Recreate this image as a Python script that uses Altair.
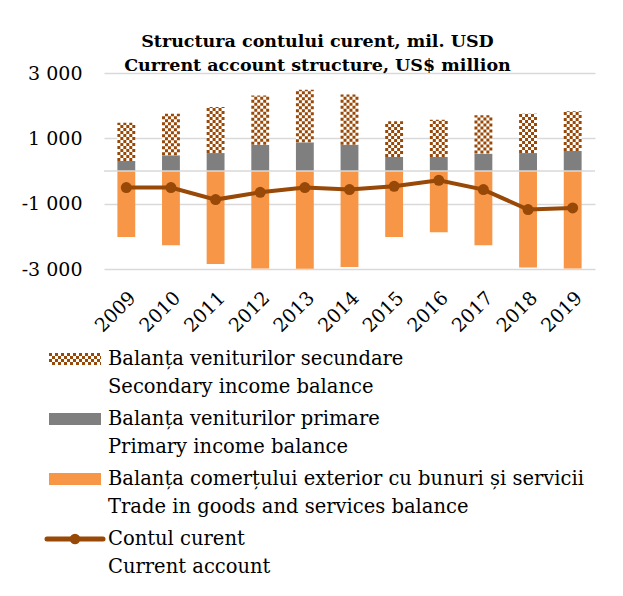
import altair as alt
import pandas as pd

# ---------------- data ----------------
years = ["2009", "2010", "2011", "2012", "2013", "2014", "2015", "2016", "2017", "2018", "2019"]
secondary = [1174, 1275, 1407, 1508, 1611, 1532, 1092, 1144, 1171, 1205, 1214]
primary = [306, 480, 550, 807, 878, 807, 428, 428, 532, 550, 612]
trade = [-2018, -2272, -2844, -2985, -2995, -2936, -2018, -1875, -2272, -2954, -2985]
current = [-508, -508, -875, -651, -508, -569, -468, -284, -569, -1180, -1131]

series_keys = ["sec", "prim", "trade", "ca"]
labels_ro = ["Balanța veniturilor secundare", "Balanța veniturilor primare",
             "Balanța comerțului exterior cu bunuri și servicii", "Contul curent"]
labels_en = ["Secondary income balance", "Primary income balance",
             "Trade in goods and services balance", "Current account"]
title_lines = ["Structura contului curent, mil. USD", "Current account structure, US$ million"]
y_ticks = [-3000, -1000, 1000, 3000]

# ---------------- style ----------------
BROWN = "#984807"
GRAY = "#7F7F7F"
ORANGE = "#F79646"
GRID = "#D9D9D9"
FONT = "DejaVu Serif"
W, H = 491, 196
PAD_IN = 0.6
NCOL = 6
colw = (1 - PAD_IN) / NCOL
cell_px = colw * W / len(years)

# ---------------- tables built from the arrays ----------------
rows = []
for i, yr in enumerate(years):
    rows.append(dict(year=yr, key="prim", y0=0, y1=primary[i]))
    rows.append(dict(year=yr, key="sec", y0=primary[i], y1=primary[i] + secondary[i]))
    rows.append(dict(year=yr, key="trade", y0=0, y1=trade[i]))
bars_df = pd.DataFrame(rows)
ca_df = pd.DataFrame({"year": years, "value": current})

chk = []
for i, yr in enumerate(years):
    for c in range(NCOL):
        chk.append(dict(pos=i + (c - (NCOL - 1) / 2) * colw, parity=c % 2,
                        y0=primary[i], y1=primary[i] + secondary[i]))
chk_df = pd.DataFrame(chk)
zero_df = pd.DataFrame({"z": [0]})
leg_df = pd.DataFrame({"key": series_keys, "l1": labels_ro, "l2": labels_en})

# ---------------- main chart ----------------
yscale = alt.Scale(domain=[-3000, 3000], nice=False, zero=False)
xband = alt.Scale(type="band", paddingInner=PAD_IN, paddingOuter=PAD_IN / 2)

y_axis = alt.Axis(values=y_ticks, grid=True, gridColor=GRID, gridWidth=1.5, ticks=False,
                  domain=False, labelPadding=22, labelFont=FONT, labelFontSize=19,
                  labelColor="#000000",
                  labelExpr="(datum.value < 0 ? '-' : '') + replace(format(abs(datum.value), ','), ',', ' ')")
x_axis = alt.Axis(labelAngle=-45, labelFont=FONT, labelFontSize=19, labelColor="#000000",
                  labelPadding=19, ticks=False, domain=False, grid=False)

bars = alt.Chart(bars_df).mark_bar().encode(
    x=alt.X("year:O", scale=xband, axis=x_axis, title=None),
    y=alt.Y("y0:Q", scale=yscale, axis=y_axis, title=None),
    y2="y1:Q",
    color=alt.Color("key:N", scale=alt.Scale(domain=["sec", "prim", "trade"],
                                             range=["#FFFFFF", GRAY, ORANGE]), legend=None),
)

def checker(par, off):
    return alt.Chart(chk_df).transform_filter(f"datum.parity == {par}").mark_rule(
        color=BROWN, strokeWidth=cell_px, strokeDash=[3, 3], strokeDashOffset=off
    ).encode(
        x=alt.X("pos:Q", scale=alt.Scale(domain=[-0.5, len(years) - 0.5], nice=False, zero=False),
                axis=None, title=None),
        y=alt.Y("y0:Q", scale=yscale, title=None),
        y2="y1:Q",
    )

zero = alt.Chart(zero_df).mark_rule(color=GRID, strokeWidth=1.5).encode(
    y=alt.Y("z:Q", scale=yscale, title=None))
xl = alt.X("year:O", scale=xband, axis=None, title=None)
line = alt.Chart(ca_df).mark_line(color=BROWN, strokeWidth=4).encode(
    x=xl, y=alt.Y("value:Q", scale=yscale, title=None))
pts = alt.Chart(ca_df).mark_circle(color=BROWN, size=120, opacity=1).encode(
    x=xl, y=alt.Y("value:Q", scale=yscale, title=None))

main = alt.layer(
    alt.layer(bars),
    alt.layer(checker(0, 0), checker(1, 3)),
    alt.layer(zero, line, pts),
).resolve_scale(x="independent").properties(width=W, height=H)

# ---------------- legend ----------------
SX = -55
TX = 4
LY = alt.Y("key:N", scale=alt.Scale(type="point", domain=series_keys, range=[23, 203], padding=0),
           axis=None, title=None)
lbase = alt.Chart(leg_df)
t1 = lbase.mark_text(align="left", baseline="middle", font=FONT, fontSize=19.5, color="#000000").encode(
    x=alt.value(TX), y=LY, text="l1:N")
t2 = lbase.mark_text(align="left", baseline="middle", font=FONT, fontSize=19.5, color="#000000", dy=28).encode(
    x=alt.value(TX), y=LY, text="l2:N")
sw = lbase.transform_filter("datum.key == 'prim' || datum.key == 'trade'").mark_rule(strokeWidth=12).encode(
    x=alt.value(SX), x2=alt.value(SX + 52), y=LY,
    color=alt.Color("key:N", scale=alt.Scale(domain=["prim", "trade"], range=[GRAY, ORANGE]), legend=None))
chk_sw = [
    lbase.transform_filter("datum.key == 'sec'").mark_rule(
        strokeWidth=3, color=BROWN, strokeDash=[3, 3], strokeDashOffset=3 * (k % 2), yOffset=off
    ).encode(x=alt.value(SX), x2=alt.value(SX + 52), y=LY)
    for k, off in enumerate([-4.5, -1.5, 1.5, 4.5])
]
ln_sw = lbase.transform_filter("datum.key == 'ca'").mark_rule(
    strokeWidth=5, strokeCap="round", color=BROWN).encode(
    x=alt.value(SX - 2), x2=alt.value(SX + 54), y=LY)
pt_sw = lbase.transform_filter("datum.key == 'ca'").mark_circle(
    size=110, color=BROWN, opacity=1).encode(x=alt.value(SX + 26), y=LY)

legend = alt.layer(t1, t2, sw, *chk_sw, ln_sw, pt_sw).properties(width=W, height=230)

chart = alt.vconcat(main, legend, spacing=0).properties(
    title=alt.TitleParams(text=title_lines, font=FONT, fontSize=17.5, fontWeight="bold",
                          lineHeight=24, anchor="middle", offset=-10, dx=9, color="#000000"),
    padding={"left": 13, "top": 24, "right": 5, "bottom": 5},
    background="#FFFFFF",
).configure_view(stroke=None)

chart.save("out.html", embed_options={"renderer": "svg", "actions": False})
